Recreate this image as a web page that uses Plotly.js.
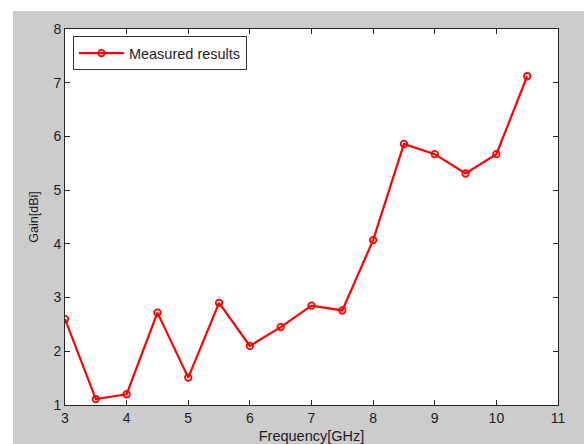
<!DOCTYPE html>
<html>
<head>
<meta charset="utf-8">
<script src="https://cdn.plot.ly/plotly-3.0.1.min.js"></script>
<style>
  html, body { margin: 0; padding: 0; background: #ffffff; }
  #chart { position: absolute; left: 13px; top: 11px; width: 571px; height: 433px; }
</style>
</head>
<body>
<div id="chart"></div>
<script>
// Measured antenna gain versus frequency
const frequencyGHz = [3, 3.5, 4, 4.5, 5, 5.5, 6, 6.5, 7, 7.5, 8, 8.5, 9, 9.5, 10, 10.5];
const gainDBi = [2.60, 1.11, 1.20, 2.72, 1.51, 2.90, 2.10, 2.45, 2.85, 2.76, 4.07, 5.86, 5.67, 5.31, 5.67, 7.12];
const xTicks = [3, 4, 5, 6, 7, 8, 9, 10, 11];
const yTicks = [1, 2, 3, 4, 5, 6, 7, 8];

const FONT = 'Liberation Sans, Arial, sans-serif';
const TEXT_COLOR = '#1c1c28';

const axisCommon = {
  showgrid: false,
  zeroline: false,
  showline: true,
  linecolor: '#262626',
  linewidth: 1,
  mirror: 'ticks',
  ticks: 'inside',
  ticklen: 5,
  tickwidth: 1,
  tickcolor: '#262626',
  tickfont: { family: FONT, size: 14, color: TEXT_COLOR }
};

const trace = {
  x: frequencyGHz,
  y: gainDBi,
  type: 'scatter',
  mode: 'lines+markers',
  name: 'Measured results',
  line: { color: '#ff0000', width: 2.2 },
  marker: { symbol: 'circle-open', size: 6.5, color: '#ff0000', line: { color: '#ff0000', width: 1.8 } }
};

const layout = {
  width: 571,
  height: 433,
  margin: { l: 52, r: 26, t: 18, b: 39 },
  paper_bgcolor: '#cccccc',
  plot_bgcolor: '#ffffff',
  showlegend: true,
  legend: {
    x: 0.016, y: 0.981, xanchor: 'left', yanchor: 'top',
    bgcolor: '#ffffff', bordercolor: '#333333', borderwidth: 1,
    font: { family: FONT, size: 14.5, color: TEXT_COLOR },
    itemwidth: 45,
    tracegroupgap: 0
  },
  xaxis: Object.assign({}, axisCommon, {
    range: [3, 11],
    tickvals: xTicks,
    ticktext: xTicks.map(String),
    title: { text: 'Frequency[GHz]', standoff: 6, font: { family: FONT, size: 14.5, color: TEXT_COLOR } }
  }),
  yaxis: Object.assign({}, axisCommon, {
    range: [1, 8],
    tickvals: yTicks,
    ticktext: yTicks.map(String),
    title: { text: 'Gain[dBi]', standoff: 12, font: { family: FONT, size: 12.5, color: TEXT_COLOR } }
  })
};

Plotly.newPlot('chart', [trace], layout, { displayModeBar: false, staticPlot: true });
</script>
</body>
</html>
